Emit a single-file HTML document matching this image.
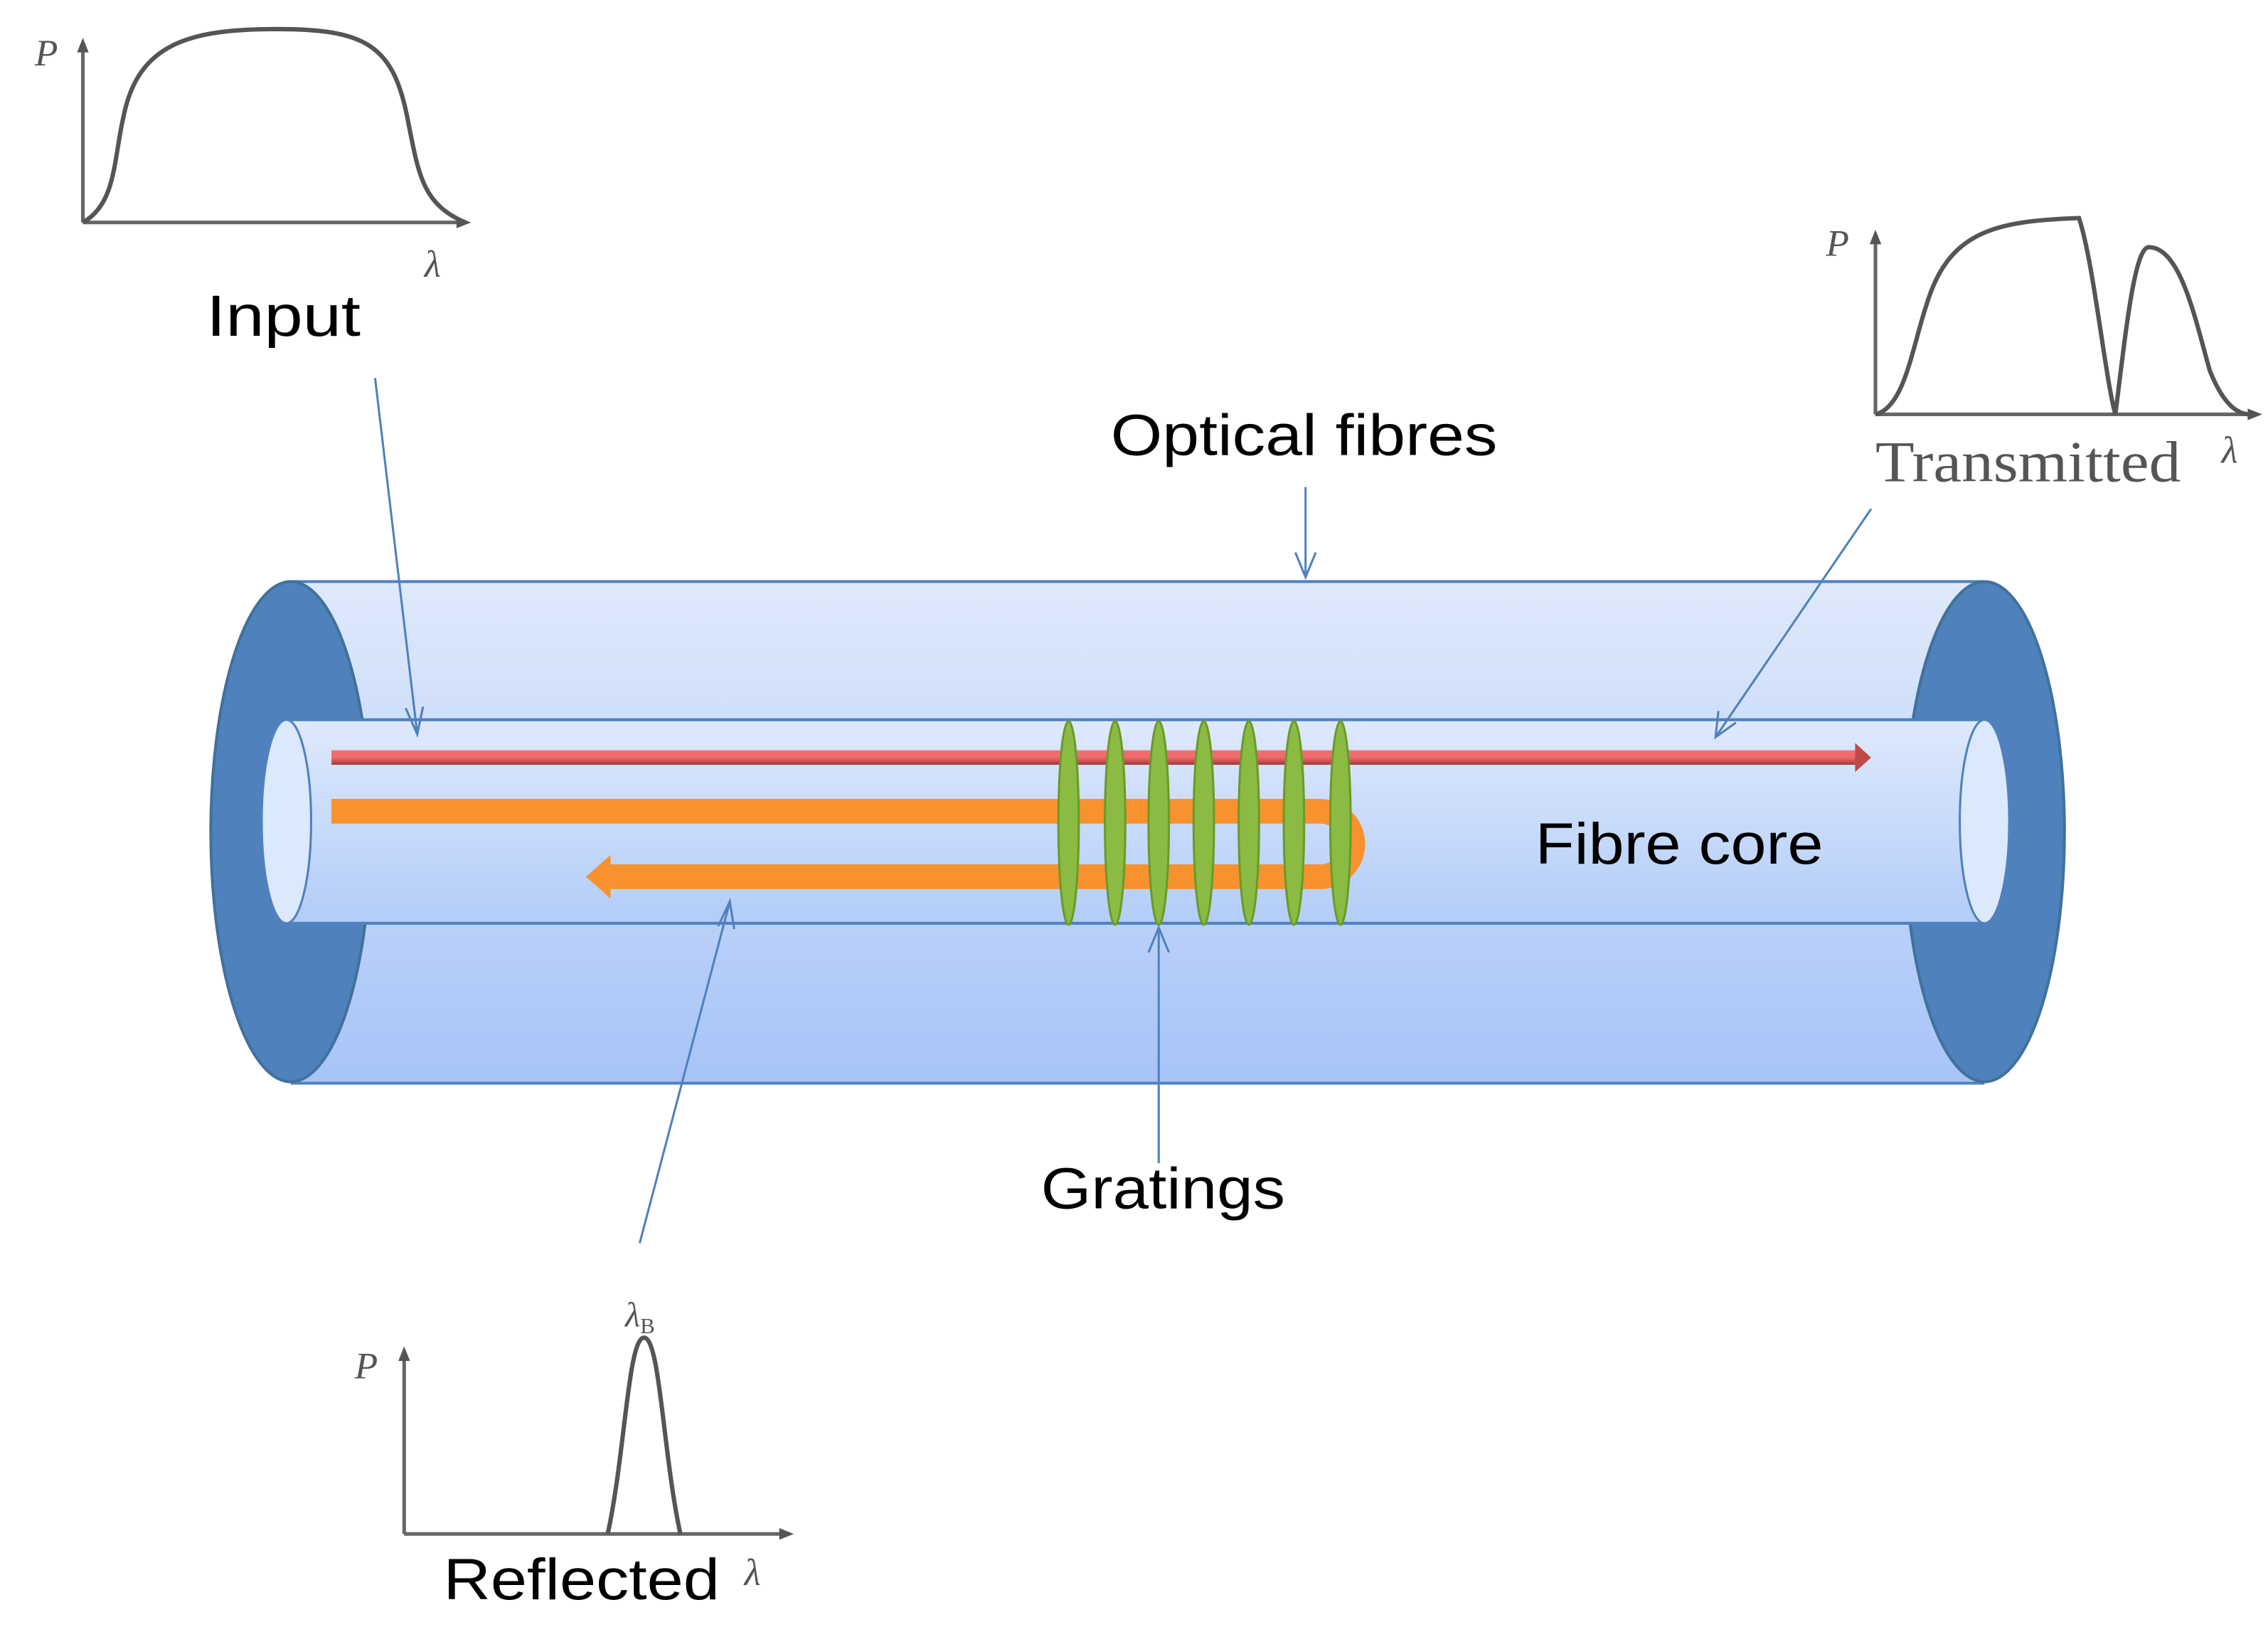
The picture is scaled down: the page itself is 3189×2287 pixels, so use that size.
<!DOCTYPE html>
<html><head><meta charset="utf-8"><style>html,body{margin:0;padding:0;background:#fff}svg{display:block}</style></head>
<body>
<svg width="3189" height="2287" viewBox="0 0 1560 1119" preserveAspectRatio="none" xmlns="http://www.w3.org/2000/svg">
<defs>
<linearGradient id="body" x1="0" y1="0" x2="0" y2="1"><stop offset="0" stop-color="#dfe9fb"/><stop offset="1" stop-color="#a7c4f7"/></linearGradient>
<linearGradient id="core" x1="0" y1="0" x2="0" y2="1"><stop offset="0" stop-color="#dfe9fc"/><stop offset="1" stop-color="#b2cdf8"/></linearGradient>
<linearGradient id="red" x1="0" y1="0" x2="0" y2="1"><stop offset="0" stop-color="#f07070"/><stop offset="0.5" stop-color="#f06a6a"/><stop offset="1" stop-color="#a03a3a"/></linearGradient>
</defs>
<rect x="200" y="400" width="1165" height="345" fill="url(#body)"/>
<line x1="200" y1="400" x2="1365" y2="400" stroke="#4f81bd" stroke-width="2"/>
<line x1="200" y1="745" x2="1365" y2="745" stroke="#4f81bd" stroke-width="2"/>
<ellipse cx="200" cy="572" rx="55" ry="172" fill="#4f81bd" stroke="#41719c" stroke-width="2"/>
<ellipse cx="1365" cy="572" rx="55" ry="172" fill="#4f81bd" stroke="#41719c" stroke-width="2"/>
<rect x="197" y="495" width="1168" height="140" fill="url(#core)"/>
<line x1="197" y1="495" x2="1365" y2="495" stroke="#4f81bd" stroke-width="2"/>
<line x1="197" y1="635" x2="1365" y2="635" stroke="#4f81bd" stroke-width="2"/>
<ellipse cx="197" cy="565" rx="17" ry="70" fill="#dce8fb" stroke="#4f81bd" stroke-width="1.5"/>
<ellipse cx="1365" cy="565" rx="17" ry="70" fill="#dce8fb" stroke="#4f81bd" stroke-width="1.5"/>
<rect x="228" y="516" width="1050" height="10" fill="url(#red)"/>
<polygon points="1276,511 1287,521 1276,531" fill="#c04848"/>
<path d="M228 558 H908 A22.5 22.5 0 0 1 908 603 H420" fill="none" stroke="#f7922e" stroke-width="17"/>
<polygon points="403,603 420,588 420,618" fill="#f7922e"/>
<g fill="#8cbb44" stroke="#6a9a2a" stroke-width="1.5">
<ellipse cx="735" cy="566" rx="7" ry="70"/><ellipse cx="767" cy="566" rx="7" ry="70"/><ellipse cx="797" cy="566" rx="7" ry="70"/><ellipse cx="828" cy="566" rx="7" ry="70"/><ellipse cx="859" cy="566" rx="7" ry="70"/><ellipse cx="890" cy="566" rx="7" ry="70"/><ellipse cx="922" cy="566" rx="7" ry="70"/>
</g>
<g stroke="#4f81bd" stroke-width="1.5" fill="none">
<line x1="258" y1="260" x2="287" y2="505"/><path d="M279 487 L287 505 L291 486"/>
<line x1="898" y1="335" x2="898" y2="397"/><path d="M891 380 L898 397 L905 380"/>
<line x1="1287" y1="350" x2="1180" y2="507"/><path d="M1182 489 L1180 507 L1194 497"/>
<line x1="440" y1="855" x2="502" y2="620"/><path d="M494 637 L502 620 L505 639"/>
<line x1="797" y1="800" x2="797" y2="638"/><path d="M790 655 L797 638 L804 655"/>
</g>
<g font-family="Liberation Sans, sans-serif" font-size="40" fill="#000" text-anchor="middle">
<text x="195" y="231" textLength="106" lengthAdjust="spacingAndGlyphs">Input</text>
<text x="897" y="313" textLength="266" lengthAdjust="spacingAndGlyphs">Optical fibres</text>
<text x="1155" y="594" textLength="198" lengthAdjust="spacingAndGlyphs">Fibre core</text>
<text x="800" y="831" textLength="168" lengthAdjust="spacingAndGlyphs">Gratings</text>
<text x="400" y="1100" textLength="190" lengthAdjust="spacingAndGlyphs">Reflected</text>
</g>
<text x="1395" y="331" font-family="Liberation Serif, serif" font-size="40" fill="#555" text-anchor="middle" textLength="210" lengthAdjust="spacingAndGlyphs">Transmitted</text>
<g stroke="#666" stroke-width="2.5" fill="none">
<line x1="57" y1="153" x2="57" y2="32"/><line x1="57" y1="153" x2="318" y2="153"/>
<line x1="1290" y1="285" x2="1290" y2="164"/><line x1="1290" y1="285" x2="1550" y2="285"/>
<line x1="278" y1="1055" x2="278" y2="932"/><line x1="278" y1="1055" x2="540" y2="1055"/>
</g>
<g fill="#555"><polygon points="53,36 57,26 61,36"/><polygon points="314,149 324,153 314,157"/>
<polygon points="1286,168 1290,158 1294,168"/><polygon points="1546,281 1556,285 1546,289"/>
<polygon points="274,936 278,926 282,936"/><polygon points="536,1051 546,1055 536,1059"/></g>
<g stroke="#555" stroke-width="3" fill="none">
<path d="M57 153 C80 140 78 110 85 80 C95 30 130 20 190 20 C250 20 270 30 280 80 C288 120 290 140 320 153"/>
<path d="M1290 285 C1310 280 1315 240 1325 210 C1340 160 1370 152 1430 150 C1440 180 1448 260 1455 285 C1462 230 1468 170 1478 170 C1500 170 1510 220 1520 255 C1530 280 1540 285 1548 285"/>
<path d="M418 1055 C430 1000 432 920 443 920 C454 920 456 1000 468 1055"/>
</g>
<g font-family="Liberation Serif, serif" font-style="italic" fill="#555" font-size="26">
<text x="24" y="45">P</text><text x="292" y="190">λ</text>
<text x="1256" y="176">P</text><text x="1528" y="318">λ</text>
<text x="244" y="948">P</text><text x="512" y="1090">λ</text>
<text x="430" y="912" font-size="24">λ<tspan font-size="15" font-style="normal" dy="5">B</tspan></text>
</g>
</svg>
</body></html>
